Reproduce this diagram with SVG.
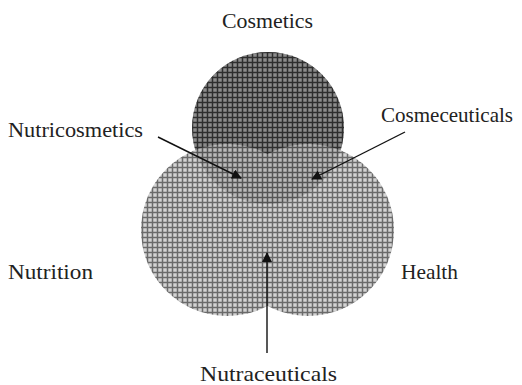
<svg xmlns="http://www.w3.org/2000/svg" width="522" height="385" viewBox="0 0 522 385">
<defs>
<pattern id="gridDark" patternUnits="userSpaceOnUse" width="5" height="5">
<rect width="5" height="5" fill="#8c8c8c"/>
<path d="M2.5 0V5M0 2.5H5" stroke="#2e2e2e" stroke-width="1.5"/>
</pattern>
<pattern id="gridLight" patternUnits="userSpaceOnUse" width="5" height="5">
<rect width="5" height="5" fill="#d3d3d3"/>
<path d="M2.5 0V5M0 2.5H5" stroke="#6a6a6a" stroke-width="1.5"/>
</pattern>
<marker id="arrow" viewBox="0 0 10 10" refX="9" refY="5" markerWidth="10" markerHeight="10" markerUnits="userSpaceOnUse" orient="auto">
<path d="M0 0L10 5L0 10Z" fill="#111"/>
</marker>
</defs>
<style>
text{font-family:"Liberation Serif","DejaVu Serif",serif;font-size:21px;fill:#222}
.conn{stroke:#111;stroke-width:1.4;fill:none}
</style>
<g id="cosmetics">
<circle cx="268" cy="128" r="76" fill="url(#gridDark)"/>
<text x="267.5" y="28" text-anchor="middle" textLength="91" lengthAdjust="spacingAndGlyphs">Cosmetics</text>
</g>
<g id="nutrition">
<circle cx="227" cy="230" r="86" fill="url(#gridLight)"/>
<text x="8" y="279" textLength="85" lengthAdjust="spacingAndGlyphs">Nutrition</text>
</g>
<g id="health">
<circle cx="308" cy="230" r="86" fill="url(#gridLight)"/>
<text x="401" y="279" textLength="57" lengthAdjust="spacingAndGlyphs">Health</text>
</g>
<g id="cosmetics-overlay">
<circle cx="268" cy="128" r="76" fill="url(#gridDark)" opacity="0.35"/>
</g>
<g id="nutricosmetics">
<text x="8" y="137" textLength="135" lengthAdjust="spacingAndGlyphs">Nutricosmetics</text>
</g>
<g id="cosmeceuticals">
<text x="381" y="122" textLength="132" lengthAdjust="spacingAndGlyphs">Cosmeceuticals</text>
</g>
<g id="nutraceuticals">
<text x="268.5" y="381" text-anchor="middle" textLength="137" lengthAdjust="spacingAndGlyphs">Nutraceuticals</text>
</g>
<g id="connectors">
<line class="conn" x1="158" y1="137" x2="241" y2="178" marker-end="url(#arrow)"/>
<line class="conn" x1="405" y1="132" x2="312" y2="179" marker-end="url(#arrow)"/>
<line class="conn" x1="267" y1="353" x2="267" y2="253" marker-end="url(#arrow)"/>
</g>
</svg>
